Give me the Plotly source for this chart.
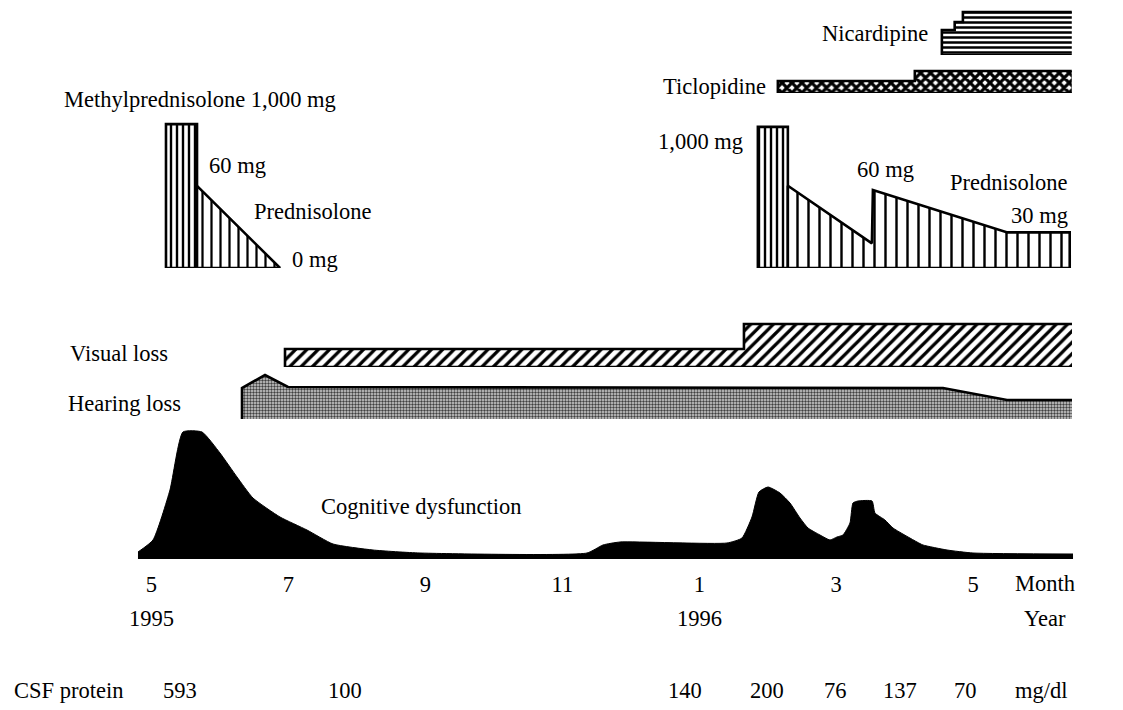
import plotly.graph_objects as go

W, H = 1123, 710
FONT = "'Liberation Serif', 'DejaVu Serif', 'Times New Roman', serif"
FS = 22.5

# ---------------- data (x = month index, 5 = May 1995, 13 = Jan 1996) ----------------
month_ticks = [5, 7, 9, 11, 13, 15, 17]
month_labels = ["5", "7", "9", "11", "1", "3", "5"]
year_ticks = [5, 13]
year_labels = ["1995", "1996"]

# steroids (drawn height; prednisolone in mg)
mp_left_x = [5.213, 5.666]
mp_left_level = 105
pred_left_x = [5.666, 6.878]
pred_left_mg = [60, 0]
mp_right_x = [13.856, 14.294]
mp_right_level = 103
pred_right_x = [14.294, 15.521, 15.536, 17.50, 18.41]
pred_right_mg = [60, 18, 57, 26, 26]

# drugs (step bands)
nicar_x = [16.543, 16.73, 16.85, 18.44]
nicar_level = [25, 33, 43]
ticlo_x = [14.148, 16.148, 18.44]
ticlo_level = [12, 22]

# symptoms
visual_x = [6.951, 13.653, 18.443]
visual_level = [18, 43]
hearing_x = [6.323, 6.659, 6.994, 16.559, 17.494, 18.443]
hearing_level = [42, 55, 43, 42, 30, 30]

cog_x = [4.804, 5.023, 5.271, 5.461, 5.739, 6.001, 6.250, 6.483, 6.878, 7.272,
         7.652, 8.236, 8.922, 11.361, 11.594, 11.843, 13.405, 13.624, 13.770,
         13.872, 14.004, 14.179, 14.325, 14.471, 14.588, 14.763, 14.909, 15.011,
         15.099, 15.201, 15.245, 15.318, 15.523, 15.566, 15.712, 15.829, 16.180,
         16.267, 16.618, 16.997, 18.458]
cog_level = [7, 19, 69, 127, 127, 106, 82, 61, 42, 29,
             15, 9, 6, 6, 14, 17, 16, 21, 42,
             67, 72, 66, 56, 41, 31, 24, 19, 22,
             24, 36, 56, 58, 58, 46, 39, 31, 17,
             14, 9, 6, 5]

csf_month = [5.417, 7.823, 12.786, 13.986, 14.994, 15.929, 16.893]
csf_value = [593, 100, 140, 200, 76, 137, 70]

# ---------------- layout helpers ----------------
X_RANGE = [2.789, 19.188]


def ydomain(base_px, units, px_per_unit):
    top_px = base_px - units * px_per_unit
    return [1 - base_px / H, 1 - top_px / H]


fig = go.Figure()
LW = 2.6


def closed_poly(xs, ys, yaxis, pattern):
    fig.add_trace(go.Scatter(
        x=xs + [xs[0]], y=ys + [ys[0]], yaxis=yaxis, mode="lines", fill="toself",
        fillcolor="white", fillpattern=pattern,
        line=dict(color="black", width=LW), hoverinfo="skip", showlegend=False))


def step_band(xs, levels):
    px, py = [xs[0]], [0]
    for i, lv in enumerate(levels):
        px += [xs[i], xs[i + 1]]
        py += [lv, lv]
    return px, py


def open_band(px, py, yaxis, pattern):
    fx = px + [px[-1], px[0]]
    fy = py + [0, 0]
    fig.add_trace(go.Scatter(x=fx, y=fy, yaxis=yaxis, mode="lines", fill="toself",
                             fillcolor="white", fillpattern=pattern,
                             line=dict(width=0, color="rgba(0,0,0,0)"),
                             hoverinfo="skip", showlegend=False))
    ox = [px[-1]] + [px[0]] + px
    oy = [0, 0] + py
    fig.add_trace(go.Scatter(x=ox, y=oy, yaxis=yaxis, mode="lines",
                             line=dict(color="black", width=LW),
                             hoverinfo="skip", showlegend=False))


def pat(shape, size, solidity, fg="black", bg="white"):
    return dict(shape=shape, size=size, solidity=solidity, fgcolor=fg,
                bgcolor=bg, fillmode="replace")


# steroids
closed_poly([mp_left_x[0], mp_left_x[0], mp_left_x[1], mp_left_x[1]],
            [0, mp_left_level, mp_left_level, 0], "y", pat("|", 6, 0.4))
closed_poly([pred_left_x[0]] + pred_left_x, [0] + pred_left_mg, "y", pat("|", 9, 0.25))
closed_poly([mp_right_x[0], mp_right_x[0], mp_right_x[1], mp_right_x[1]],
            [0, mp_right_level, mp_right_level, 0], "y", pat("|", 6, 0.4))
closed_poly([pred_right_x[0]] + pred_right_x + [pred_right_x[-1]],
            [0] + pred_right_mg + [0], "y", pat("|", 11, 0.22))

# drugs
nx, ny = step_band(nicar_x, nicar_level)
open_band(nx, ny, "y2", pat("-", 5, 0.5))
tx, ty = step_band(ticlo_x, ticlo_level)
open_band(tx, ty, "y3", pat("x", 7, 0.7))

# symptoms
vx, vy = step_band(visual_x, visual_level)
open_band(vx, vy, "y4", pat("/", 8, 0.4))
open_band([hearing_x[0]] + hearing_x, [0] + hearing_level, "y5",
          pat(".", 3, 0.5, fg="#404040", bg="#d2d2d2"))

# cognitive dysfunction
fig.add_trace(go.Scatter(x=cog_x, y=cog_level, yaxis="y6", mode="lines", fill="tozeroy",
                         fillcolor="black",
                         line=dict(color="black", width=1, shape="spline", smoothing=0.5),
                         hoverinfo="skip", showlegend=False))
fig.add_trace(go.Scatter(x=[cog_x[0], cog_x[-1]], y=[2, 2], yaxis="y6", mode="lines",
                         line=dict(color="black", width=5),
                         hoverinfo="skip", showlegend=False))

hidden = dict(visible=False, fixedrange=True)
fig.update_layout(
    width=W, height=H, margin=dict(l=0, r=0, t=0, b=0),
    paper_bgcolor="white", plot_bgcolor="white",
    font=dict(family=FONT, size=FS, color="black"),
    xaxis=dict(range=X_RANGE, domain=[0, 1], anchor="y6", showgrid=False, zeroline=False,
               showline=False, ticks="", tickmode="array", tickvals=month_ticks,
               ticktext=month_labels, ticklabelstandoff=9, fixedrange=True,
               tickfont=dict(family=FONT, size=FS)),
    yaxis=dict(domain=ydomain(268, 110, 1.37), range=[0, 110], anchor="x", **hidden),
    yaxis2=dict(domain=ydomain(55, 50, 1), range=[0, 50], anchor="x", **hidden),
    yaxis3=dict(domain=ydomain(93, 30, 1), range=[0, 30], anchor="x", **hidden),
    yaxis4=dict(domain=ydomain(367, 50, 1), range=[0, 50], anchor="x", **hidden),
    yaxis5=dict(domain=ydomain(430, 60, 1), range=[0, 60], anchor="x", **hidden),
    yaxis6=dict(domain=ydomain(559, 140, 1), range=[0, 140], anchor="x", **hidden),
)

ann = []


def lab(text, xpx, ypx, xanchor="left"):
    ann.append(dict(text=text, x=xpx / W, y=1 - ypx / H, xref="paper", yref="paper",
                    xanchor=xanchor, yanchor="middle", showarrow=False,
                    font=dict(family=FONT, size=FS, color="black")))


lab("Methylprednisolone 1,000 mg", 62, 99)
lab("60 mg", 207, 165)
lab("Prednisolone", 252, 211)
lab("0 mg", 290, 260)
lab("Nicardipine", 930, 33, "right")
lab("Ticlopidine", 768, 86, "right")
lab("1,000 mg", 745, 142, "right")
lab("60 mg", 855, 169)
lab("Prednisolone", 1070, 182, "right")
lab("30 mg", 1070, 215, "right")
lab("Visual loss", 68, 353)
lab("Hearing loss", 66, 403)
lab("Cognitive dysfunction", 319, 506)
lab("Month", 1013, 583)
lab("Year", 1068, 618, "right")
lab("CSF protein", 12, 690)
lab("mg/dl", 1070, 690, "right")

for xv, t in zip(year_ticks, year_labels):
    ann.append(dict(text=t, x=xv, y=1 - 618 / H, xref="x", yref="paper",
                    xanchor="center", yanchor="middle", showarrow=False,
                    font=dict(family=FONT, size=FS, color="black")))
for xv, v in zip(csf_month, csf_value):
    ann.append(dict(text=str(v), x=xv, y=1 - 690 / H, xref="x", yref="paper",
                    xanchor="center", yanchor="middle", showarrow=False,
                    font=dict(family=FONT, size=FS, color="black")))

fig.update_layout(annotations=ann)
fig.write_html("out.html", config={"displayModeBar": False},
               post_script="document.body.style.margin='0px';")
